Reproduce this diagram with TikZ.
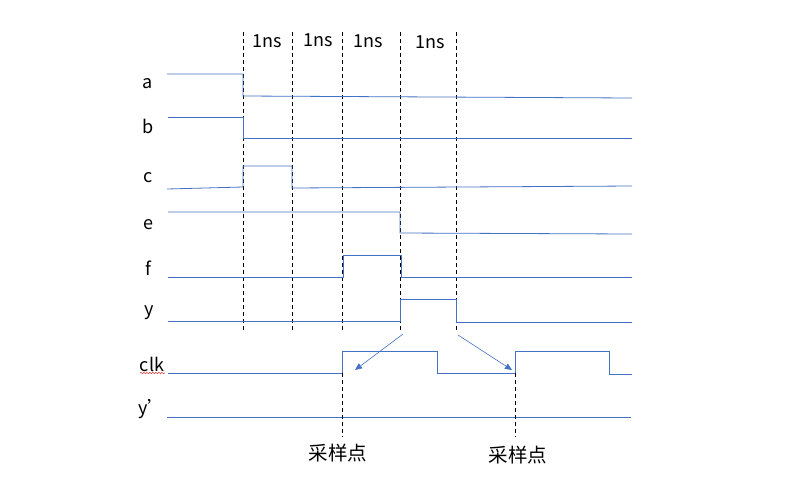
\documentclass[tikz,border=0pt]{standalone}
\usepackage{fontspec}
\setmainfont{Noto Sans CJK SC}
\usetikzlibrary{arrows.meta,decorations.pathmorphing}
\definecolor{sig}{RGB}{68,114,196}
\definecolor{squig}{RGB}{220,40,40}
\tikzset{
  wave/.style={draw=sig, line width=0.8pt},
  grid/.style={draw=black, line width=0.9pt, dash pattern=on 4pt off 3pt},
  lbl/.style={font=\fontsize{18}{21}\selectfont, inner sep=0pt},
  note/.style={font=\fontsize{19.5}{23}\selectfont, inner sep=0pt},
  pointer/.style={draw=sig, line width=0.6pt, -{Triangle[length=7pt,width=6pt]}}
}
\begin{document}
\begin{tikzpicture}[x=1pt,y=-1pt]
\path[use as bounding box, fill=white] (0,0) rectangle (803,480);
% time grid
\foreach \n/\x in {g1/243,g2/292,g3/342,g4/400,g5/456}{
  \coordinate (\n t) at (\x,32);
  \coordinate (\n b) at (\x,331);
  \draw[grid] (\n t) -- (\n b);
}
\node[lbl] (t1) at (267,41) {1ns};
\node[lbl] (t2) at (318,40) {1ns};
\node[lbl] (t3) at (368,41) {1ns};
\node[lbl] (t4) at (430,42) {1ns};
% signal labels
\node[lbl] (la) at (148,84) {a};
\node[lbl] (lb) at (148,126) {b};
\node[lbl] (lc) at (148,178) {c};
\node[lbl] (le) at (148,225) {e};
\node[lbl] (lf) at (148,268) {f};
\node[lbl] (ly) at (149,313) {y};
\node[lbl] (lclk) at (152,364) {clk};
\node[lbl] (lyp) at (152,409) {y’};
\draw[squig, line width=0.5pt, decorate, decoration={snake,amplitude=0.6pt,segment length=3pt}] (140,373) -- (165,373);
% waveforms
\draw[wave] (167,74) -- (243,74) -- (243,96) -- (632,98);
\draw[wave] (168,117) -- (243,117) -- (243,138) -- (632,138);
\draw[wave] (167,189) -- (243,187) -- (243,166) -- (292,166) -- (292,188) -- (632,186);
\draw[wave] (168,212) -- (400,212) -- (400,233) -- (632,234);
\draw[wave] (168,277) -- (343,277) -- (343,255) -- (401,255) -- (401,277) -- (632,277);
\draw[wave] (168,321) -- (400,321) -- (400,299) -- (456,299) -- (456,322) -- (632,322);
\draw[wave] (168,373) -- (342,373) -- (342,351) -- (437,351) -- (437,373) -- (515,373) -- (515,351) -- (609,351) -- (609,374) -- (632,374);
\draw[wave] (167,417) -- (631,417);
% sampling points
\coordinate (s1t) at (342,373);
\coordinate (s1b) at (342,437);
\coordinate (s2t) at (515,373);
\coordinate (s2b) at (515,437);
\draw[grid] (s1t) -- (s1b);
\draw[grid] (s2t) -- (s2b);
\node[note] (p1) at (338,453) {采样点};
\node[note] (p2) at (518,455) {采样点};
% arrows
\coordinate (a1s) at (403,334);
\coordinate (a1e) at (355,370);
\coordinate (a2s) at (458,335);
\coordinate (a2e) at (512,370);
\draw[pointer] (a1s) -- (a1e);
\draw[pointer] (a2s) -- (a2e);
\end{tikzpicture}
\end{document}
